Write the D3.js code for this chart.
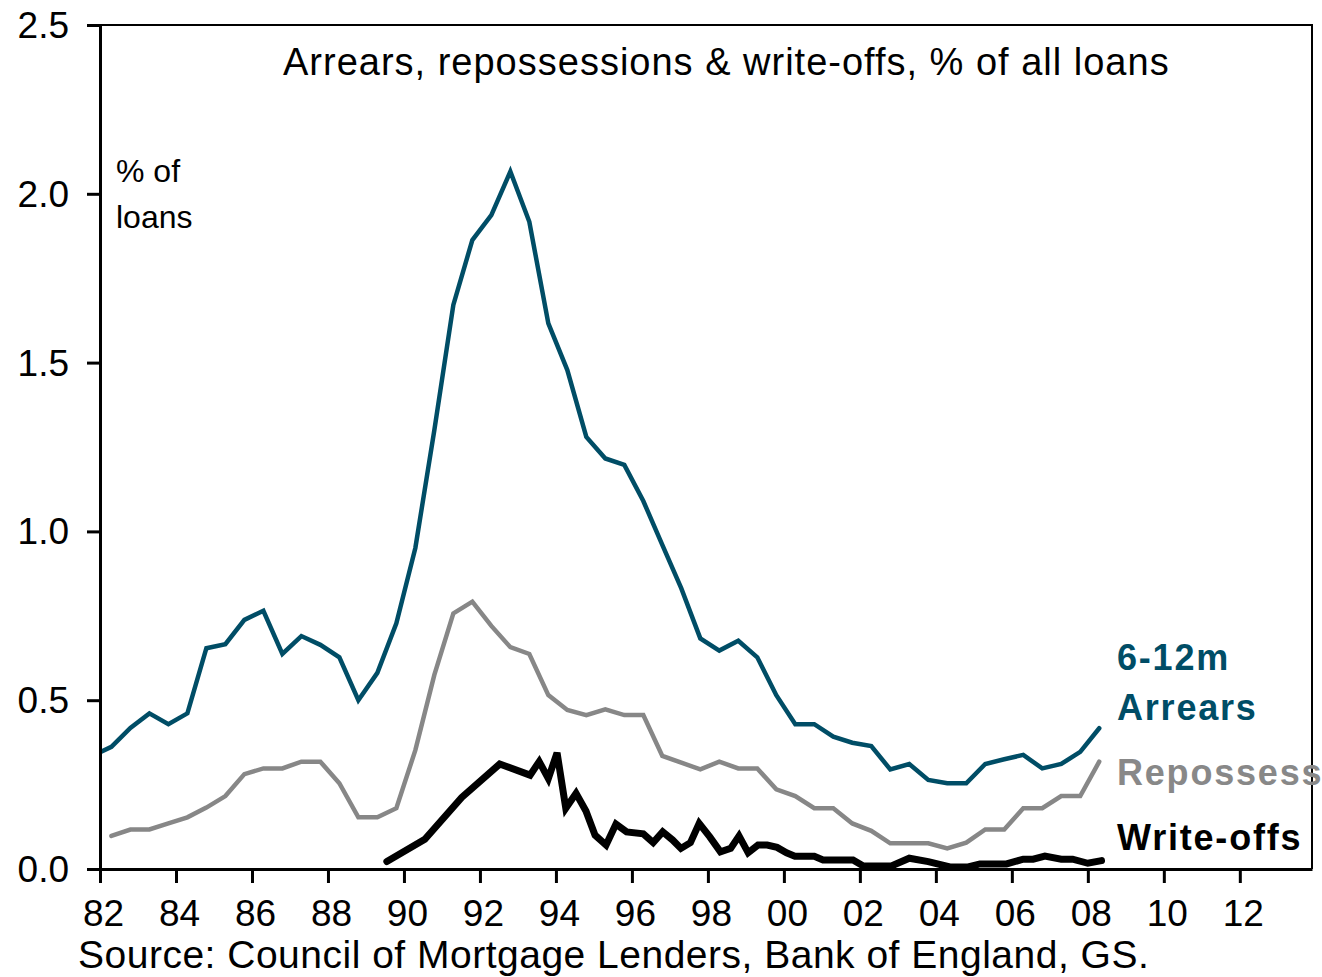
<!DOCTYPE html>
<html>
<head>
<meta charset="utf-8">
<script src="https://cdn.jsdelivr.net/npm/d3@7"></script>
<style>
  html, body { margin: 0; padding: 0; background: #fff; }
  svg { display: block; font-family: Arial, "Liberation Sans", sans-serif; }
</style>
</head>
<body>
<svg id="chart" width="1322" height="977"></svg>
<script>
// ---- Data ----
const arrearsYears = [1981.8,1982.3,1982.8,1983.3,1983.8,1984.3,1984.8,1985.3,1985.8,1986.3,1986.8,1987.3,1987.8,1988.3,1988.8,1989.3,1989.8,1990.3,1990.8,1991.3,1991.8,1992.3,1992.8,1993.3,1993.8,1994.3,1994.8,1995.3,1995.8,1996.3,1996.8,1997.3,1997.8,1998.3,1998.8,1999.3,1999.8,2000.3,2000.8,2001.3,2001.8,2002.3,2002.8,2003.3,2003.8,2004.3,2004.8,2005.3,2005.8,2006.3,2006.8,2007.3,2007.8,2008.3];
const arrearsValues = [0.335,0.362,0.418,0.461,0.429,0.461,0.654,0.666,0.738,0.765,0.637,0.690,0.664,0.627,0.500,0.581,0.728,0.951,1.30,1.671,1.863,1.937,2.066,1.917,1.616,1.478,1.280,1.216,1.197,1.09,0.96,0.831,0.683,0.647,0.676,0.627,0.515,0.429,0.429,0.392,0.374,0.364,0.295,0.311,0.264,0.254,0.254,0.311,0.325,0.338,0.298,0.311,0.347,0.417];

const repossYears = [1982.3,1982.8,1983.3,1983.8,1984.3,1984.8,1985.3,1985.8,1986.3,1986.8,1987.3,1987.8,1988.3,1988.8,1989.3,1989.8,1990.3,1990.8,1991.3,1991.8,1992.3,1992.8,1993.3,1993.8,1994.3,1994.8,1995.3,1995.8,1996.3,1996.8,1997.3,1997.8,1998.3,1998.8,1999.3,1999.8,2000.3,2000.8,2001.3,2001.8,2002.3,2002.8,2003.3,2003.8,2004.3,2004.8,2005.3,2005.8,2006.3,2006.8,2007.3,2007.8,2008.3];
const repossValues = [0.098,0.117,0.117,0.135,0.153,0.182,0.216,0.281,0.298,0.298,0.318,0.318,0.254,0.153,0.153,0.180,0.352,0.575,0.757,0.792,0.720,0.657,0.637,0.515,0.471,0.456,0.473,0.456,0.456,0.335,0.315,0.295,0.318,0.298,0.298,0.236,0.216,0.180,0.180,0.135,0.113,0.076,0.076,0.076,0.061,0.078,0.117,0.117,0.180,0.180,0.216,0.216,0.318];

const writeoffYears = [1989.55,1990.55,1991.52,1992.52,1993.32,1993.56,1993.80,1994.03,1994.26,1994.53,1994.79,1995.03,1995.32,1995.58,1995.86,1996.30,1996.56,1996.81,1997.07,1997.29,1997.54,1997.77,1998.05,1998.33,1998.60,1998.82,1999.06,1999.32,1999.56,1999.82,2000.07,2000.29,2000.80,2001.03,2001.82,2002.09,2002.83,2003.30,2003.80,2004.37,2004.85,2005.16,2005.86,2006.30,2006.56,2006.87,2007.30,2007.60,2008.00,2008.36];
const writeoffValues = [0.022,0.088,0.212,0.311,0.278,0.318,0.268,0.344,0.180,0.224,0.172,0.100,0.071,0.133,0.110,0.104,0.078,0.110,0.086,0.061,0.078,0.135,0.095,0.051,0.061,0.098,0.048,0.071,0.071,0.064,0.048,0.038,0.038,0.027,0.027,0.009,0.009,0.032,0.022,0.006,0.006,0.015,0.015,0.029,0.029,0.038,0.029,0.029,0.017,0.025];

const xTickYears = [1982,1984,1986,1988,1990,1992,1994,1996,1998,2000,2002,2004,2006,2008,2010,2012];
const yTickValues = [0, 0.5, 1.0, 1.5, 2.0, 2.5];

const titleText = "Arrears, repossessions & write-offs, % of all loans";
const unitLines = ["% of", "loans"];
const sourceText = "Source: Council of Mortgage Lenders, Bank of England, GS.";
const seriesLabels = [
  { lines: ["6-12m", "Arrears"], color: "#004d66" },
  { lines: ["Repossess"], color: "#888888" },
  { lines: ["Write-offs"], color: "#000000" }
];

// ---- Layout ----
const svg = d3.select("#chart");
const L = 100, R = 1312, T = 25, B = 869;
const x = d3.scaleLinear().domain([1982, 2013.9]).range([L, R]);
const y = d3.scaleLinear().domain([0, 2.5]).range([B, T]);

svg.append("defs").append("clipPath").attr("id", "plotclip")
  .append("rect").attr("x", L).attr("y", T - 10).attr("width", R - L).attr("height", B - T + 20);

// frame (top & right)
svg.append("path")
  .attr("d", `M${L},${T}H${R}V${B}`)
  .attr("fill", "none").attr("stroke", "#000").attr("stroke-width", 2);

// Title
svg.append("text").attr("x", 283).attr("y", 75)
  .attr("font-size", 38).attr("letter-spacing", 1).attr("fill", "#000").text(titleText);

// unit label
svg.append("text").attr("font-size", 32).attr("fill", "#000")
  .selectAll("tspan").data(unitLines).join("tspan")
  .attr("x", 116).attr("y", (d, i) => 182 + i * 46).text(d => d);

// Lines
function addLine(xs, vs, color, width, cap) {
  const data = xs.map((d, i) => [d, vs[i]]);
  svg.append("path")
    .datum(data)
    .attr("clip-path", "url(#plotclip)")
    .attr("fill", "none")
    .attr("stroke", color)
    .attr("stroke-width", width)
    .attr("stroke-linejoin", "miter")
    .attr("stroke-miterlimit", 3)
    .attr("stroke-linecap", cap)
    .attr("d", d3.line().x(d => x(d[0])).y(d => y(d[1])));
}
addLine(repossYears, repossValues, "#878787", 4.5, "round");
addLine(arrearsYears, arrearsValues, "#004d66", 4.5, "round");
addLine(writeoffYears, writeoffValues, "#000000", 7, "round");

// Axes
const yAxis = d3.axisLeft(y).tickValues(yTickValues).tickSize(13).tickSizeOuter(0)
  .tickFormat(d3.format(".1f")).tickPadding(18);
const gy = svg.append("g").attr("transform", `translate(${L},0)`).call(yAxis);
gy.select(".domain").attr("stroke", "#000").attr("stroke-width", 3);
gy.selectAll(".tick line").attr("stroke", "#000").attr("stroke-width", 3);
gy.selectAll(".tick text").attr("font-size", 37).attr("font-family", "Arial, 'Liberation Sans', sans-serif")
  .attr("fill", "#000").attr("dy", "0.34em");

const xAxis = d3.axisBottom(x).tickValues(xTickYears).tickSize(14).tickSizeOuter(0)
  .tickFormat(d => String(d % 100).padStart(2, "0")).tickPadding(18);
const gx = svg.append("g").attr("transform", `translate(0,${B})`).call(xAxis);
gx.select(".domain").attr("stroke", "#000").attr("stroke-width", 3);
gx.selectAll(".tick line").attr("stroke", "#000").attr("stroke-width", 3);
gx.selectAll(".tick text").attr("font-size", 37).attr("font-family", "Arial, 'Liberation Sans', sans-serif")
  .attr("fill", "#000").attr("dx", 3).attr("dy", "0.68em");

// Series labels
const labelX = 1117;
const labelBaselines = [[670, 720], [785], [850]];
seriesLabels.forEach((s, i) => {
  svg.append("text").attr("font-size", 36).attr("font-weight", "bold")
    .attr("letter-spacing", 1.8).attr("fill", s.color)
    .selectAll("tspan").data(s.lines).join("tspan")
    .attr("x", labelX).attr("y", (d, j) => labelBaselines[i][j]).text(d => d);
});

// Source
svg.append("text").attr("x", 78).attr("y", 968).attr("font-size", 39)
  .attr("letter-spacing", 0.5).attr("fill", "#000").text(sourceText);
</script>
</body>
</html>
